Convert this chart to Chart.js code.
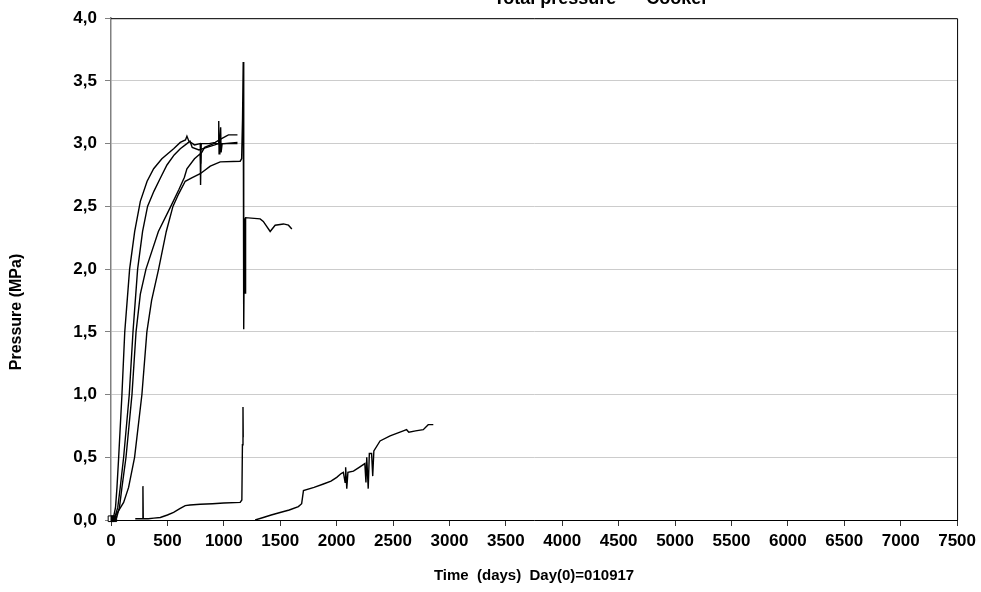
<!DOCTYPE html>
<html>
<head>
<meta charset="utf-8">
<script src="https://cdn.jsdelivr.net/npm/chart.js@4"></script>
<style>
html, body { margin: 0; padding: 0; background: #fff; }
</style>
</head>
<body>
<canvas id="myChart" width="981" height="592"></canvas>
<script>
'use strict';
// ---------- Data ------------------------------------ //
let daysA = [0, 20, 40, 53, 68, 97, 122, 165, 210, 260, 320, 378, 451, 555, 614, 660, 673, 690, 740, 791, 795, 800, 870, 924, 980, 1041, 1121];
let pressA = [0, 0.01, 0.10, 0.26, 0.50, 1.00, 1.50, 2.00, 2.30, 2.54, 2.70, 2.80, 2.88, 2.96, 3.01, 3.03, 3.06, 3.02, 2.99, 3.00, 2.84, 3.00, 3.00, 3.01, 3.04, 3.07, 3.07];

let daysB = [0, 30, 60, 82, 112, 162, 195, 236, 280, 324, 380, 440, 496, 560, 614, 673, 700, 720, 780, 850, 920, 950, 955, 958, 965, 972, 976, 985, 1050, 1121];
let pressB = [0, 0.01, 0.10, 0.26, 0.50, 1.00, 1.50, 2.00, 2.30, 2.50, 2.62, 2.73, 2.83, 2.91, 2.96, 3.00, 3.02, 2.97, 2.95, 2.97, 2.99, 3.00, 3.18, 2.92, 3.00, 3.13, 2.93, 3.00, 3.00, 3.00];

let daysC = [0, 50, 75, 97, 133, 186, 222, 260, 310, 420, 530, 600, 650, 673, 740, 791, 794, 798, 830, 909, 1000, 1121];
let pressC = [0, 0.02, 0.10, 0.26, 0.50, 1.00, 1.50, 1.80, 2.00, 2.30, 2.50, 2.63, 2.73, 2.80, 2.88, 2.92, 2.67, 2.92, 2.97, 3.00, 3.00, 3.01];

let daysD = [0, 30, 65, 112, 156, 209, 274, 318, 360, 422, 490, 549, 600, 658, 720, 791, 880, 968, 1145, 1158, 1166, 1172, 1175, 1178, 1182, 1186, 1189, 1193, 1322, 1350, 1411, 1455, 1529, 1573, 1603];
let pressD = [0, 0.02, 0.07, 0.14, 0.26, 0.50, 1.00, 1.50, 1.75, 2.00, 2.30, 2.50, 2.60, 2.70, 2.73, 2.76, 2.82, 2.855, 2.86, 2.88, 3.20, 3.65, 3.30, 1.52, 2.20, 2.405, 1.81, 2.41, 2.40, 2.38, 2.30, 2.35, 2.36, 2.35, 2.32];

let daysE = [215, 280, 283, 286, 330, 380, 437, 500, 555, 610, 658, 700, 791, 900, 1000, 1145, 1160, 1165, 1170, 1172];
let pressE = [0.01, 0.01, 0.27, 0.01, 0.01, 0.015, 0.02, 0.04, 0.06, 0.09, 0.115, 0.12, 0.125, 0.13, 0.135, 0.14, 0.16, 0.60, 0.90, 0.66];

let daysF = [1278, 1350, 1420, 1499, 1580, 1661, 1690, 1706, 1800, 1883, 1950, 2001, 2040, 2060, 2075, 2080, 2090, 2100, 2149, 2200, 2250, 2260, 2267, 2280, 2290, 2310, 2320, 2330, 2385, 2474, 2591, 2620, 2640, 2700, 2768, 2812, 2857];
let pressF = [0, 0.02, 0.04, 0.06, 0.08, 0.107, 0.13, 0.234, 0.26, 0.287, 0.31, 0.34, 0.37, 0.38, 0.30, 0.42, 0.25, 0.38, 0.39, 0.42, 0.45, 0.30, 0.50, 0.25, 0.53, 0.53, 0.35, 0.55, 0.63, 0.67, 0.71, 0.72, 0.70, 0.71, 0.72, 0.76, 0.76];

let markerDays = [0, 25];
let markerPress = [0.01, 0.01];

let xTickStep = 500;
let xMax = 7500;
let yTickStep = 0.5;
let yMax = 4;

// ---------- Helpers ------------- //
function toPoints(days, press) {
    let pts = [];
    for (let i = 0; i < days.length; i++) {
        pts.push({ x: days[i], y: press[i] });
    }
    return pts;
}

function lineSet(days, press) {
    return {
        data: toPoints(days, press),
        borderColor: '#000',
        borderWidth: 1.4,
        pointRadius: 0,
        tension: 0,
        fill: false
    };
}

let fontFamily = 'Arial, "Liberation Sans", sans-serif';

// frame on top/right + titles that Chart.js can't place the same way
let extraText = {
    id: 'extraText',
    afterDraw(chart) {
        let ctx = chart.ctx;
        let area = chart.chartArea;
        ctx.save();
        ctx.strokeStyle = '#000';
        ctx.lineWidth = 1;
        ctx.beginPath();
        ctx.moveTo(area.left, area.top + 0.5);
        ctx.lineTo(area.right + 0.5, area.top + 0.5);
        ctx.lineTo(area.right + 0.5, area.bottom);
        ctx.stroke();

        ctx.fillStyle = '#000';
        ctx.font = 'bold 18px ' + fontFamily;
        ctx.textAlign = 'center';
        ctx.textBaseline = 'alphabetic';
        ctx.fillText('Total pressure  \u2013  Cooker', 601, 3.5);

        ctx.translate(17, 312);
        ctx.rotate(-Math.PI / 2);
        ctx.font = 'bold 16px ' + fontFamily;
        ctx.textBaseline = 'middle';
        ctx.fillText('Pressure (MPa)', 0, 0);
        ctx.restore();
    }
};

let markers = {
    data: toPoints(markerDays, markerPress),
    showLine: false,
    pointStyle: 'rect',
    pointRadius: 4,
    pointBorderColor: '#000',
    pointBorderWidth: 1,
    pointBackgroundColor: ['#fff', '#000'],
    clip: false
};

let chartObject = {
    type: 'line',
    data: {
        datasets: [
            lineSet(daysA, pressA),
            lineSet(daysB, pressB),
            lineSet(daysC, pressC),
            lineSet(daysD, pressD),
            lineSet(daysE, pressE),
            lineSet(daysF, pressF),
            markers
        ]
    },
    options: {
        responsive: false,
        animation: false,
        devicePixelRatio: 1,
        layout: { padding: { top: 16, right: 23, left: 0, bottom: 0 } },
        plugins: {
            legend: { display: false },
            tooltip: { enabled: false }
        },
        scales: {
            x: {
                type: 'linear',
                min: 0,
                max: xMax,
                afterFit(scale) { scale.height = 72; },
                ticks: {
                    stepSize: xTickStep,
                    autoSkip: false,
                    maxRotation: 0,
                    padding: 5,
                    color: '#000',
                    font: { family: fontFamily, size: 17, weight: 'bold' },
                    callback: function (value) {
                        return String(value);
                    }
                },
                grid: {
                    drawOnChartArea: false,
                    tickLength: 6,
                    tickColor: '#333'
                },
                border: { color: '#000', width: 1 },
                title: {
                    display: true,
                    text: 'Time  (days)  Day(0)=010917',
                    color: '#000',
                    padding: { top: 0, bottom: 7 },
                    font: { family: fontFamily, size: 15, weight: 'bold' }
                }
            },
            y: {
                min: 0,
                max: yMax,
                afterFit(scale) { scale.width = 111; },
                ticks: {
                    stepSize: yTickStep,
                    padding: 8,
                    color: '#000',
                    font: { family: fontFamily, size: 17, weight: 'bold' },
                    callback: function (value) {
                        return value.toFixed(1).replace('.', ',');
                    }
                },
                grid: {
                    color: '#cccccc',
                    tickColor: '#808080',
                    tickLength: 6
                },
                border: { color: '#808080', width: 1.5 }
            }
        }
    },
    plugins: [extraText]
};

let ctx = document.getElementById('myChart').getContext('2d');
let myChart = new Chart(ctx, chartObject);
</script>
</body>
</html>
